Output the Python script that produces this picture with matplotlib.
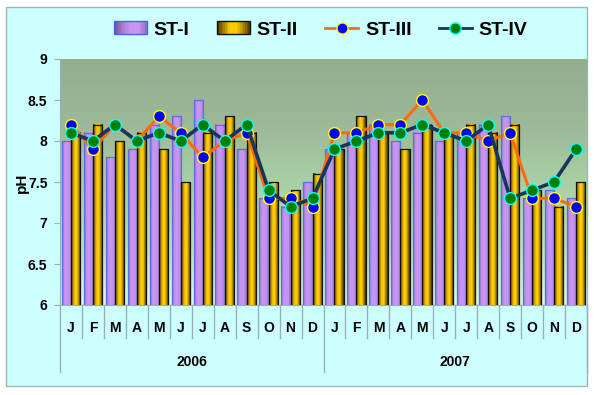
import numpy as np
import matplotlib
matplotlib.use('Agg')
import matplotlib.pyplot as plt
from matplotlib.colors import LinearSegmentedColormap
from matplotlib.patches import Rectangle, Patch
from matplotlib.lines import Line2D
from matplotlib.legend_handler import HandlerBase

plt.rcParams['font.family'] = 'Liberation Sans'
plt.rcParams['font.weight'] = 'bold'

# -- data

months = ['J', 'F', 'M', 'A', 'M', 'J', 'J', 'A', 'S', 'O', 'N', 'D']
years = ['2006', '2007']

st1 = [8.0, 8.1, 7.8, 7.9, 8.2, 8.3, 8.5, 8.2, 7.9, 7.3, 7.2, 7.5,
       7.9, 8.1, 8.2, 8.0, 8.1, 8.0, 8.1, 8.2, 8.3, 7.3, 7.4, 7.3]
st2 = [8.1, 8.2, 8.0, 8.1, 7.9, 7.5, 8.1, 8.3, 8.1, 7.5, 7.4, 7.6,
       7.9, 8.3, 8.1, 7.9, 8.2, 8.1, 8.2, 8.1, 8.2, 7.4, 7.2, 7.5]
st3 = [8.2, 7.9, 8.2, 8.0, 8.3, 8.1, 7.8, 8.0, 8.1, 7.3, 7.3, 7.2,
       8.1, 8.1, 8.2, 8.2, 8.5, 8.1, 8.1, 8.0, 8.1, 7.3, 7.3, 7.2]
st4 = [8.1, 8.0, 8.2, 8.0, 8.1, 8.0, 8.2, 8.0, 8.2, 7.4, 7.2, 7.3,
       7.9, 8.0, 8.1, 8.1, 8.2, 8.1, 8.0, 8.2, 7.3, 7.4, 7.5, 7.9]

yticks = [6, 6.5, 7, 7.5, 8, 8.5, 9]

# -- colours

bg_cmap = LinearSegmentedColormap.from_list(
    'bg', ['#d6f6e8', '#b8e0b8', '#a9cfa5', '#9bb897', '#93ad8e'])
st1_cmap = LinearSegmentedColormap.from_list(
    's1', ['#8a6cc4', '#c391ee', '#c897f4', '#c08ef0', '#9474c8'])
st2_cmap = LinearSegmentedColormap.from_list(
    's2', ['#3a2a00', '#b88a00', '#ffcc00', '#ffcc00', '#a07800', '#3a2c00'])
leg1_cmap = LinearSegmentedColormap.from_list(
    'l1', ['#6a4f8a', '#a47ad0', '#c896f2', '#c896f2', '#8e6cb8'])
leg2_cmap = LinearSegmentedColormap.from_list(
    'l2', ['#4a3800', '#a07a00', '#ffcc00', '#ffcc00', '#b08800', '#4a3800'])


class GradHandler(HandlerBase):
    # legend box filled with a left-to-right gradient
    def __init__(self, cmap, edge):
        super().__init__()
        self._cmap = cmap
        self._edge = edge

    def create_artists(self, legend, orig_handle, xdescent, ydescent,
                       width, height, fontsize, trans):
        n = 20
        arts = []
        for i in range(n):
            r = Rectangle((-xdescent + width * i / n, -ydescent),
                          width / n * 1.1, height,
                          facecolor=self._cmap((i + 0.5) / n), lw=0,
                          transform=trans)
            arts.append(r)
        arts.append(Rectangle((-xdescent, -ydescent), width, height,
                              facecolor='none', edgecolor=self._edge, lw=1,
                              transform=trans))
        return arts


W, H = 594, 395
fig = plt.figure(figsize=(W / 100, H / 100), dpi=100)
fig.patch.set_facecolor('white')

# outer box
fig.patches.append(Rectangle((6 / W, 1 - 386 / H), 581 / W, 379 / H,
                             transform=fig.transFigure, facecolor='#ccffff',
                             edgecolor='#9ab8b8', lw=1, zorder=-10))

ax = fig.add_axes([60 / W, 1 - 305 / H, 527 / W, 246 / H])
ax.set_zorder(5)
ax.set_facecolor('none')

x = np.arange(len(st1))
ax.set_xlim(-0.5, len(st1) - 0.5)
ax.set_ylim(6, 9)

# background gradient
grad = np.linspace(0, 1, 256).reshape(-1, 1)
ax.imshow(grad, extent=[-0.5, len(st1) - 0.5, 6, 9], origin='lower',
          aspect='auto', cmap=bg_cmap, zorder=0)

w = 0.42
bars1 = ax.bar(x - w / 2, st1, width=w, facecolor='none', edgecolor='#5570e0',
               lw=0.9, zorder=3)
bars2 = ax.bar(x + w / 2, st2, width=w, facecolor='none', edgecolor='#111111',
               lw=0.9, zorder=3)

hgrad = np.linspace(0, 1, 64).reshape(1, -1)
for bars, cm in ((bars1, st1_cmap), (bars2, st2_cmap)):
    for r in bars:
        x0 = r.get_x()
        ax.imshow(hgrad, extent=[x0, x0 + r.get_width(), 6, r.get_height()],
                  aspect='auto', cmap=cm, zorder=2)

ax.plot(x, st3, color='#ff6a10', lw=2.2, marker='o', ms=8.5,
        mfc='#0000ff', mec='#ffff00', mew=1, zorder=5)
ax.plot(x, st4, color='#16365c', lw=2.6, marker='o', ms=8.5,
        mfc='#008000', mec='#00ffff', mew=1, zorder=6)

ax.set_xlim(-0.5, len(st1) - 0.5)
ax.set_ylim(6, 9)

# axes styling
for s in ['top', 'right']:
    ax.spines[s].set_visible(False)
ax.spines['left'].set_color('#9ab0b0')
ax.spines['bottom'].set_color('#9ab0b0')
ax.set_yticks(yticks)
ax.set_yticklabels(['%g' % v for v in yticks])
ax.tick_params(axis='y', length=4, color='#9ab0b0', pad=5, labelsize=10)
ax.set_xticks([])

# category axis
tr = ax.get_xaxis_transform()
for i in range(len(st1) + 1):
    edge = i - 0.5
    low = -0.272 if i % 12 == 0 else -0.134
    ax.plot([edge, edge], [0, low], transform=tr, color='#9ab0b0', lw=1,
            clip_on=False)
for i in range(len(st1)):
    ax.text(i, -0.093, months[i % 12], transform=tr, ha='center', va='center',
            fontsize=10, fontweight='bold')
for k, yr in enumerate(years):
    ax.text(k * 12 + 5.5, -0.232, yr, transform=tr, ha='center',
            va='center', fontsize=10, fontweight='bold')

fig.text(22 / W, 1 - 183 / H, 'pH', rotation=90, ha='center', va='center',
         fontsize=11, fontweight='bold')

handles = [
    Patch(facecolor='#b487e4', edgecolor='#4466ee', lw=1),
    Patch(facecolor='#d8a800', edgecolor='#111111', lw=1),
    Line2D([], [], color='#ff6a10', lw=2, marker='o', ms=8,
           mfc='#0000ff', mec='#ffff00'),
    Line2D([], [], color='#16365c', lw=2, marker='o', ms=8,
           mfc='#008000', mec='#00ffff'),
]
fig.legend(handles, ['ST-I', 'ST-II', 'ST-III', 'ST-IV'], loc='center',
           bbox_to_anchor=(0.54, 1 - 30 / H), ncol=4, frameon=False,
           prop={'size': 14, 'weight': 'bold'}, handlelength=1.7,
           handleheight=0.6, handletextpad=0.35, columnspacing=1.4,
           handler_map={handles[0]: GradHandler(leg1_cmap, '#4466ee'),
                        handles[1]: GradHandler(leg2_cmap, '#111111')})

fig.savefig('out.png', dpi=100)
